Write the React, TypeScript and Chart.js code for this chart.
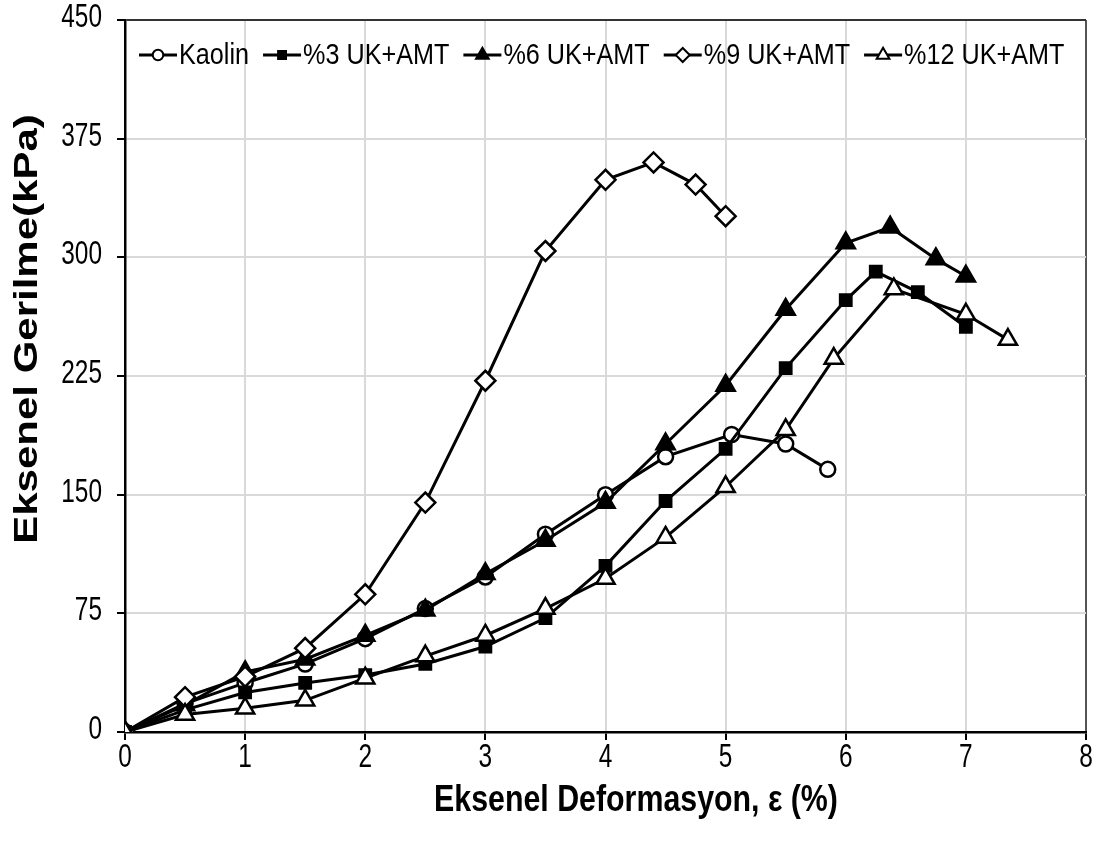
import React, { useEffect, useRef } from 'react';
import { Chart, registerables } from 'chart.js';
import { drawPoint } from 'chart.js/helpers';

Chart.register(...registerables);

// ---- data ----
const seriesNames = ['Kaolin', '%3 UK+AMT', '%6 UK+AMT', '%9 UK+AMT', '%12 UK+AMT'];

const kaolinX = [0, 0.5, 1, 1.5, 2, 2.5, 3, 3.5, 4, 4.5, 5.05, 5.5, 5.85];
const kaolinY = [0, 18, 31, 43, 59, 78, 98, 125, 150, 174, 188, 182, 166];

const uk3X = [0, 0.5, 1, 1.5, 2, 2.5, 3, 3.5, 4, 4.5, 5, 5.5, 6, 6.25, 6.6, 7];
const uk3Y = [0, 14, 25, 31, 36, 43, 54, 72, 105, 146, 179, 230, 273, 291, 278, 256];

const uk6X = [0, 0.5, 1, 1.5, 2, 2.5, 3, 3.5, 4, 4.5, 5, 5.5, 6, 6.37, 6.75, 7];
const uk6Y = [0, 17, 38, 46, 61, 77, 100, 121, 145, 182, 219, 267, 309, 319, 299, 288];

const uk9X = [0, 0.5, 1, 1.5, 2, 2.5, 3, 3.5, 4, 4.4, 4.75, 5];
const uk9Y = [0, 22, 35, 53, 87, 145, 222, 304, 349, 360, 346, 326];

const uk12X = [0, 0.5, 1, 1.5, 2, 2.5, 3, 3.5, 4, 4.5, 5, 5.5, 5.9, 6.4, 7, 7.35];
const uk12Y = [0, 11, 15, 20, 34, 48, 61, 78, 97, 123, 155, 191, 236, 280, 264, 248];

const xTicks = [0, 1, 2, 3, 4, 5, 6, 7, 8];
const yTicks = [0, 75, 150, 225, 300, 375, 450];

const xTitle = 'Eksenel Deformasyon, ε (%)';
const yTitle = 'Eksenel Gerilme(kPa)';

// ---- styles ----
const FONT = "'Liberation Sans', Arial, sans-serif";
const SQUEEZE = 0.74;

const markerStyles = [
  { pointStyle: 'circle', fill: '#ffffff', radius: 7.5 },
  { pointStyle: 'rect', fill: '#000000', radius: 8 },
  { pointStyle: 'triangle', fill: '#000000', radius: 10.5 },
  { pointStyle: 'rectRot', fill: '#ffffff', radius: 10 },
  { pointStyle: 'triangle', fill: '#ffffff', radius: 10.5 },
];

const xs = [kaolinX, uk3X, uk6X, uk9X, uk12X];
const ys = [kaolinY, uk3Y, uk6Y, uk9Y, uk12Y];

function squeezedText(
  ctx: CanvasRenderingContext2D,
  text: string,
  x: number,
  y: number,
  font: string,
  align: CanvasTextAlign,
  baseline: CanvasTextBaseline,
  sx = SQUEEZE,
) {
  ctx.save();
  ctx.translate(x, y);
  ctx.scale(sx, 1);
  ctx.font = font;
  ctx.fillStyle = '#000';
  ctx.textAlign = align;
  ctx.textBaseline = baseline;
  ctx.fillText(text, 0, 0);
  const w = ctx.measureText(text).width * sx;
  ctx.restore();
  return w;
}

const textPlugin = {
  id: 'textPlugin',
  afterDraw(chart: any) {
    const ctx = chart.ctx as CanvasRenderingContext2D;
    const area = chart.chartArea;
    const sxScale = chart.scales.x;
    const syScale = chart.scales.y;

    // tick labels
    const tickFont = `33px ${FONT}`;
    xTicks.forEach((v) => {
      squeezedText(ctx, String(v), sxScale.getPixelForValue(v), area.bottom + 26, tickFont, 'center', 'middle');
    });
    yTicks.forEach((v) => {
      squeezedText(ctx, String(v), area.left - 23, syScale.getPixelForValue(v) - 2, tickFont, 'right', 'middle');
    });

    // legend inside plot area
    const legFont = `30px ${FONT}`;
    let x = area.left + 14;
    const y = 55;
    const lineLen = 38;
    seriesNames.forEach((name, i) => {
      const m = markerStyles[i];
      ctx.save();
      ctx.strokeStyle = '#000';
      ctx.lineWidth = 3;
      ctx.beginPath();
      ctx.moveTo(x, y);
      ctx.lineTo(x + lineLen, y);
      ctx.stroke();
      ctx.fillStyle = m.fill;
      ctx.strokeStyle = '#000';
      ctx.lineWidth = 2;
      drawPoint(ctx, { pointStyle: m.pointStyle as any, radius: m.radius * 0.7, rotation: 0, borderWidth: 2 }, x + lineLen / 2, y);
      ctx.restore();
      const w = squeezedText(ctx, name, x + lineLen + 2, y + 1, legFont, 'left', 'middle', 0.84);
      x += lineLen + 2 + w + 14;
    });

    // x title
    squeezedText(ctx, xTitle, 636, 801, `bold 37px ${FONT}`, 'center', 'middle', 0.82);

    // y title (rotated, condensed across its height)
    ctx.save();
    ctx.translate(28, 329);
    ctx.rotate(-Math.PI / 2);
    ctx.scale(1, 0.8);
    ctx.font = `bold 42px ${FONT}`;
    ctx.fillStyle = '#000';
    ctx.textAlign = 'center';
    ctx.textBaseline = 'middle';
    ctx.fillText(yTitle, 0, 0);
    ctx.restore();
  },
};

export default function App() {
  const ref = useRef<HTMLCanvasElement | null>(null);

  useEffect(() => {
    if (!ref.current) return;
    const datasets = seriesNames.map((name, i) => ({
      label: name,
      data: xs[i].map((xv, j) => ({ x: xv, y: ys[i][j] })),
      borderColor: '#000000',
      borderWidth: 3,
      pointStyle: markerStyles[i].pointStyle as any,
      pointRadius: markerStyles[i].radius,
      pointBackgroundColor: markerStyles[i].fill,
      pointBorderColor: '#000000',
      pointBorderWidth: 2.5,
      fill: false,
      tension: 0,
      order: seriesNames.length - i,
    }));

    const chart = new Chart(ref.current, {
      type: 'line',
      data: { datasets },
      options: {
        animation: false,
        responsive: false,
        maintainAspectRatio: false,
        layout: { padding: { left: 0, right: 12, top: 20, bottom: 0 } },
        plugins: {
          legend: { display: false },
          tooltip: { enabled: false },
        },
        scales: {
          x: {
            type: 'linear',
            min: 0,
            max: 8,
            afterBuildTicks: (s: any) => { s.ticks = xTicks.map((v) => ({ value: v })); },
            afterFit: (s: any) => { s.height = 113; },
            border: { display: true, color: '#000', width: 2.5 },
            grid: {
              color: (c: any) => (c.tick && c.tick.value === 8 ? '#555555' : '#d9d9d9'),
              lineWidth: 2,
              drawTicks: true,
              tickLength: 8,
              tickColor: '#000',
              tickWidth: 2,
            },
            ticks: { display: false },
          },
          y: {
            type: 'linear',
            min: 0,
            max: 450,
            afterBuildTicks: (s: any) => { s.ticks = yTicks.map((v) => ({ value: v })); },
            afterFit: (s: any) => { s.width = 125; },
            border: { display: true, color: '#000', width: 2.5 },
            grid: {
              color: (c: any) => (c.tick && c.tick.value === 450 ? '#333333' : '#d9d9d9'),
              lineWidth: 2,
              drawTicks: true,
              tickLength: 8,
              tickColor: '#000',
              tickWidth: 2,
            },
            ticks: { display: false },
          },
        },
      },
      plugins: [textPlugin],
    });
    return () => chart.destroy();
  }, []);

  return (
    <div style={{ position: 'fixed', left: 0, top: 0, width: 1099, height: 845, background: '#fff' }}>
      <canvas ref={ref} width={1099} height={845} style={{ width: 1099, height: 845 }} />
    </div>
  );
}
